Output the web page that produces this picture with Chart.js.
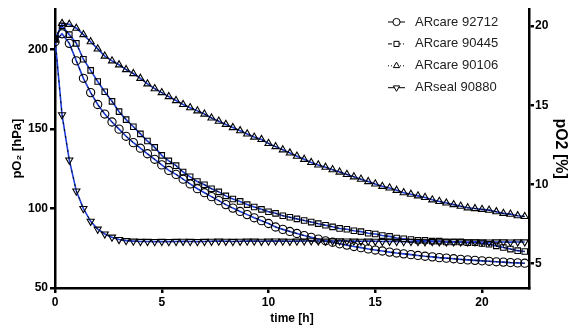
<!DOCTYPE html>
<html>
<head>
<meta charset="utf-8">
<script src="https://cdn.jsdelivr.net/npm/chart.js@4.4.0/dist/chart.umd.min.js"></script>
<style>
  html, body { margin: 0; padding: 0; background: #fff; }
  #wrap { width: 574px; height: 331px; position: relative; }
</style>
</head>
<body>
<div id="wrap"><canvas id="oxyChart"></canvas></div>
<script>
// time points [h], every 20 min
var times = [0, 0.33, 0.67, 1, 1.33, 1.67, 2, 2.33, 2.67, 3, 3.33, 3.67, 4, 4.33, 4.67, 5,
  5.33, 5.67, 6, 6.33, 6.67, 7, 7.33, 7.67, 8, 8.33, 8.67, 9, 9.33, 9.67, 10,
  10.33, 10.67, 11, 11.33, 11.67, 12, 12.33, 12.67, 13, 13.33, 13.67, 14, 14.33, 14.67, 15,
  15.33, 15.67, 16, 16.33, 16.67, 17, 17.33, 17.67, 18, 18.33, 18.67, 19, 19.33, 19.67, 20,
  20.33, 20.67, 21, 21.33, 21.67, 22];

var seriesNames = ['ARcare 92712', 'ARcare 90445', 'ARcare 90106', 'ARseal 90880'];

// pO2 [hPa]
var arcare92712 = [205, 210, 204, 193, 182, 173, 165.5, 159.5, 154.5, 150, 145.5, 141.5, 138, 134.5, 131, 127.5,
  124, 121.5, 118.5, 115.5, 112.5, 110, 107.5, 105, 102.5, 100.3, 98.2, 96.2, 94.2, 92.4, 90.6,
  88.4, 86.9, 85.6, 84.3, 83, 81.9, 80.8, 79.7, 78.8, 77.8, 77, 76.1, 75.4, 74.6, 73.9,
  73.3, 72.6, 72, 71.5, 71, 70.5, 70, 69.6, 69.1, 68.8, 68.4, 68, 67.7, 67.4, 67.1,
  66.8, 66.5, 66.3, 66, 65.8, 65.6];

var arcare90445 = [207, 215, 209.5, 204, 194, 187, 180, 173.5, 167.5, 161, 156, 151.5, 147, 142.5, 138.5, 133.5,
  130, 127, 123, 120, 117, 115, 112.5, 110.5, 108, 106, 104.5, 102.5, 101, 99.5, 98,
  97, 95.5, 94.5, 93.5, 92.5, 91.5, 90.5, 89.5, 88.5, 87.5, 87, 86, 85.5, 84.5, 84,
  83, 82.5, 81.5, 81, 80.5, 80, 80, 79.5, 79.5, 79, 79, 79, 78.5, 78.5, 78,
  77.5, 76.5, 75.5, 74.5, 73.5, 73];

var arcare90106 = [206, 216.5, 216, 213.5, 209.5, 205, 200.5, 196, 193, 190.5, 187.5, 185, 182, 178.5, 175.5, 173,
  170.5, 168, 165.5, 163.5, 161.5, 159.5, 157, 155, 153, 151, 149, 147, 145, 143.5, 141,
  139, 137, 135, 133, 131, 129, 127.5, 126, 124.5, 123, 121.5, 120, 118.5, 117, 115.5,
  114, 113, 111.5, 110, 109, 108, 107, 105.5, 104.5, 103.5, 102.5, 101.5, 100.5, 100, 99.5,
  99, 98, 97, 96.5, 95.5, 95];

var arseal90880 = [207, 159, 130.5, 111, 100, 92, 87, 84, 82, 80.5, 79.8, 79.5, 79.3, 79.3, 79.2, 79.3,
  79.2, 79.3, 79.4, 79.3, 79.2, 79.3, 79.4, 79.5, 79.4, 79.3, 79.4, 79.5, 79.5, 79.4, 79.5,
  79.6, 79.5, 79.4, 79.5, 79.6, 79.7, 79.6, 79.5, 79.6, 79.7, 79.6, 79.5, 79.4, 79.5, 79.4,
  79.3, 79.4, 79.3, 79.2, 79.3, 79.2, 79.1, 79.2, 79.1, 79, 79.1, 79, 79, 79.1, 79,
  78.9, 79, 79, 78.9, 79, 79];

var pointStyles = ['circle', 'rect', 'triangle', 'triangle'];
var pointRotations = [0, 0, 0, 180];
var legendDashes = [[], [4, 2, 1, 2], [1, 2], []];
var lineBlue = '#1e3ed8';

function toXY(vals) {
  return vals.map(function (v, i) { return { x: times[i], y: v }; });
}

var allSeries = [arcare92712, arcare90445, arcare90106, arseal90880];

var datasets = [];
allSeries.forEach(function (vals, i) {
  // blue connecting line
  datasets.push({
    label: seriesNames[i] + ' line',
    data: toXY(vals),
    borderColor: lineBlue,
    borderWidth: 1.6,
    pointRadius: 0,
    order: 3,
    fill: false
  });
  // black dashes on top of the blue line
  datasets.push({
    label: seriesNames[i] + ' dash',
    data: toXY(vals),
    borderColor: '#000',
    borderWidth: 1,
    borderDash: [2, 5],
    pointRadius: 0,
    order: 2,
    fill: false
  });
  // markers
  datasets.push({
    label: seriesNames[i],
    data: toXY(vals),
    showLine: false,
    pointStyle: pointStyles[i],
    rotation: pointRotations[i],
    pointRadius: i === 1 ? 3.9 : 4.1,
    pointBorderColor: '#000',
    pointBackgroundColor: 'rgba(255,255,255,0)',
    pointBorderWidth: 1.1,
    order: 1
  });
});

// simple legend drawn inside the plot area
var innerLegend = {
  id: 'innerLegend',
  afterDatasetsDraw: function (chart) {
    var ctx = chart.ctx;
    ctx.save();
    for (var i = 0; i < seriesNames.length; i++) {
      var y = 22 + i * 21.9;
      ctx.strokeStyle = '#000';
      ctx.lineWidth = 1;
      ctx.setLineDash(legendDashes[i]);
      ctx.beginPath();
      ctx.moveTo(388, y);
      ctx.lineTo(405, y);
      ctx.stroke();
      ctx.setLineDash([]);
      ctx.fillStyle = '#fff';
      Chart.helpers.drawPoint(ctx, {
        pointStyle: pointStyles[i],
        rotation: pointRotations[i],
        radius: 3.6,
        borderWidth: 1
      }, 396.5, y);
      ctx.fillStyle = '#222';
      ctx.font = '13px "Liberation Sans", Arial, sans-serif';
      ctx.textBaseline = 'middle';
      ctx.textAlign = 'left';
      ctx.fillText(seriesNames[i], 415, y);
    }
    ctx.restore();
  }
};

Chart.defaults.font.family = '"Liberation Sans", Arial, sans-serif';
Chart.defaults.color = '#000';

var ctx = document.getElementById('oxyChart').getContext('2d');
window.oxyChart = new Chart(ctx, {
  type: 'line',
  data: { datasets: datasets },
  plugins: [innerLegend],
  options: {
    responsive: true,
    maintainAspectRatio: false,
    animation: false,
    layout: { padding: { top: 7, left: 0, right: 0, bottom: 0 } },
    plugins: {
      legend: { display: false },
      tooltip: { enabled: false }
    },
    scales: {
      x: {
        type: 'linear',
        min: 0,
        max: 22.2,
        border: { color: '#000', width: 2.5 },
        grid: { drawOnChartArea: false, drawTicks: true, tickLength: 5, color: '#000', lineWidth: 2.5 },
        ticks: { stepSize: 5, includeBounds: false, font: { size: 12, weight: 'bold' }, padding: 2, maxRotation: 0 },
        title: { display: true, text: 'time [h]', font: { size: 12, weight: 'bold' }, padding: { top: 0, bottom: 5 } },
        afterFit: function (scale) { scale.height = 43; }
      },
      y: {
        position: 'left',
        min: 50,
        max: 225.5,
        border: { color: '#000', width: 2.5 },
        grid: { drawOnChartArea: false, drawTicks: true, tickLength: 5, color: '#000', lineWidth: 2.5 },
        ticks: { stepSize: 50, includeBounds: false, font: { size: 12, weight: 'bold' }, padding: 2 },
        title: { display: true, text: 'pO\u2082 [hPa]', font: { size: 13, weight: 'bold' }, padding: { top: 10, bottom: 0 } },
        afterFit: function (scale) { scale.width = 55; }
      },
      y2: {
        position: 'right',
        min: 3.45,
        max: 21.07,
        border: { color: '#000', width: 2.5 },
        grid: { drawOnChartArea: false, drawTicks: true, tickLength: 5, color: '#000', lineWidth: 2.5 },
        ticks: { stepSize: 5, includeBounds: false, font: { size: 12, weight: 'bold' }, padding: 1 },
        title: { display: true, text: 'pO2 [%]', font: { size: 16, weight: 'bold' }, padding: { top: 4, bottom: 0 } },
        afterFit: function (scale) { scale.width = 45; }
      }
    }
  }
});
</script>
</body>
</html>
